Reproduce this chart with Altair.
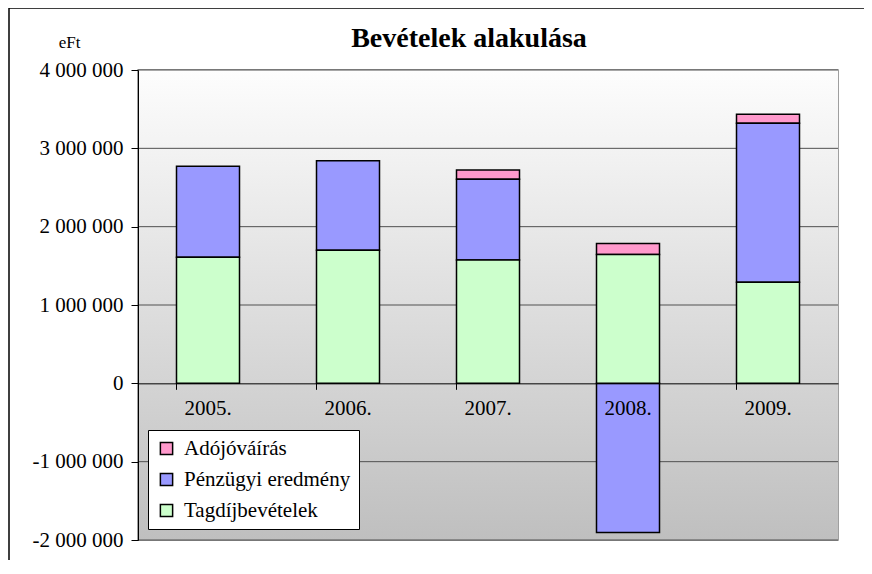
import altair as alt
import pandas as pd

# ---- data ----
years = ["2005.", "2006.", "2007.", "2008.", "2009."]
series_names = ["Adójóváírás", "Pénzügyi eredmény", "Tagdíjbevételek"]
series_colors = ["#FF99CC", "#9999FF", "#CCFFCC"]
stack_rank = [2, 1, 0]  # stacking order: Tagdíj bottom, Pénzügyi, Adójóváírás top

tagdij = [1610000, 1700000, 1575000, 1645000, 1290000]
penzugyi = [1160000, 1140000, 1030000, -1905000, 2030000]
adojovairas = [0, 0, 120000, 140000, 115000]

grid_values = [-2000000, -1000000, 1000000, 2000000, 3000000, 4000000]
tick_values = [-2000000, -1000000, 0, 1000000, 2000000, 3000000, 4000000]

rows = []
for name, vals, rank in zip(series_names, [adojovairas, penzugyi, tagdij], stack_rank):
    for y, v in zip(years, vals):
        if v != 0:
            rows.append({"year": y, "series": name, "value": v, "rank": rank})
df = pd.DataFrame(rows)

W, H = 700, 470
FONT = "'Liberation Serif', 'Times New Roman', Times, 'DejaVu Serif', serif"

yscale = alt.Scale(domain=[-2000000, 4000000], nice=False, zero=False)
yaxis = alt.Axis(
    values=tick_values,
    labelExpr="replace(replace(replace(format(datum.value, ','), ',', ' '), ',', ' '), '\u2212', '-')",
    labelFont=FONT,
    labelFontSize=21,
    labelColor="black",
    labelPadding=8,
    tickColor="black",
    tickSize=7,
    domainColor="black",
    domainWidth=1,
    grid=False,
    title="eFt",
    titleAngle=0,
    titleX=-69,
    titleY=-28,
    titleFont=FONT,
    titleFontSize=17,
    titleFontWeight="normal",
    titleColor="black",
    titleAlign="center",
    titleBaseline="middle",
    zindex=1,
)

bg = alt.Chart(pd.DataFrame({"a": [0]})).mark_rect(
    color={
        "gradient": "linear",
        "x1": 0, "y1": 0, "x2": 0, "y2": 1,
        "stops": [
            {"offset": 0, "color": "#fdfdfd"},
            {"offset": 1, "color": "#bfbfbf"},
        ],
    }
).encode(x=alt.value(0), x2=alt.value(W), y=alt.value(0), y2=alt.value(H))

grid = alt.Chart(pd.DataFrame({"value": grid_values})).mark_rule(
    color="#505050", strokeWidth=1
).encode(y=alt.Y("value:Q", scale=yscale, axis=yaxis))

bars = alt.Chart(df).mark_bar(stroke="black", strokeWidth=1.5, opacity=1).encode(
    x=alt.X(
        "year:N",
        sort=years,
        scale=alt.Scale(paddingInner=0.55, paddingOuter=0.275),
        axis=alt.Axis(
            title=None,
            labelAngle=0,
            orient="bottom",
            offset=-H / 3,
            bandPosition=0,
            tickSize=6,
            tickColor="black",
            tickWidth=1,
            domainColor="black",
            domainWidth=1,
            labelFont=FONT,
            labelFontSize=21,
            labelColor="black",
            labelPadding=8,
            zindex=1,
        ),
    ),
    y=alt.Y("value:Q", stack="zero", scale=yscale, axis=yaxis),
    color=alt.Color(
        "series:N",
        scale=alt.Scale(domain=series_names, range=series_colors),
        legend=alt.Legend(
            title=None,
            orient="none",
            legendX=10,
            legendY=360,
            fillColor="white",
            strokeColor="black",
            padding=8,
            symbolType="square",
            symbolSize=150,
            symbolStrokeColor="black",
            symbolStrokeWidth=1.5,
            symbolOpacity=1,
            labelFont=FONT,
            labelFontSize=21,
            labelColor="black",
            labelOffset=7,
            labelLimit=400,
            rowPadding=9,
        ),
    ),
    order=alt.Order("rank:Q"),
)

frame = alt.Chart(pd.DataFrame({"a": [0]})).mark_rect(
    fill="transparent", stroke="black", strokeWidth=1.5
).encode(x=alt.value(-129), x2=alt.value(2000), y=alt.value(-62), y2=alt.value(2000))

chart = (
    alt.layer(bg, grid, bars, frame)
    .properties(
        width=W,
        height=H,
        autosize=alt.AutoSizeParams(type="none"),
        padding={"left": 130, "top": 62, "right": 26, "bottom": 20},
        title=alt.TitleParams(
            "Bevételek alakulása",
            font=FONT,
            fontSize=28,
            fontWeight="bold",
            color="black",
            anchor="middle",
            dx=-19,
            offset=-46,
        ),
    )
    .configure(font=FONT)
    .configure_axis(labelFont=FONT, titleFont=FONT)
    .configure_legend(labelFont=FONT)
    .configure_view(stroke="#808080", strokeWidth=1.5)
)

chart.save("out.html", embed_options={"renderer": "svg", "actions": False})
